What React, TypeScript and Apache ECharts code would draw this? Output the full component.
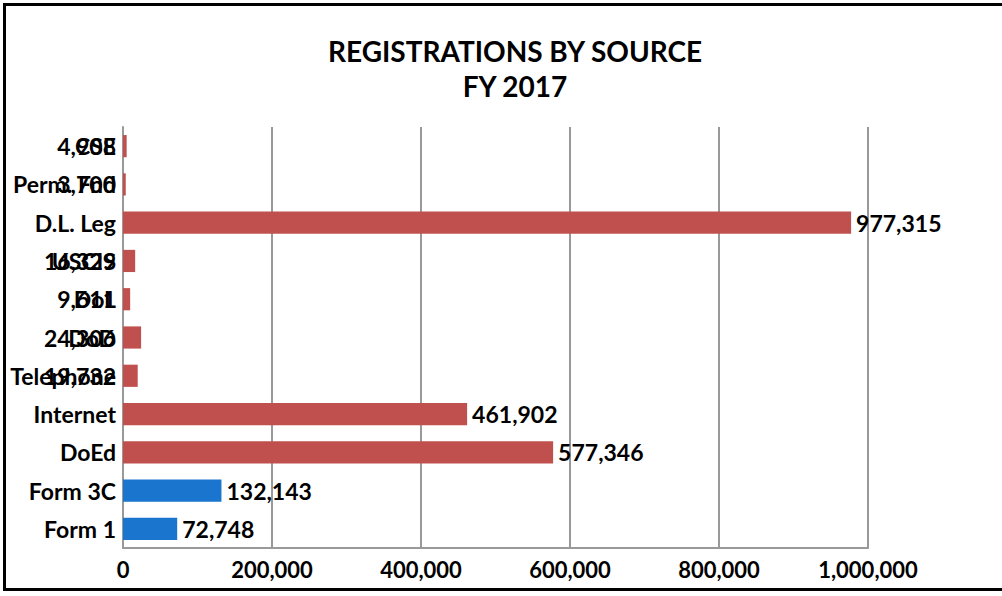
import React, { useEffect, useRef } from "react";
import * as echarts from "echarts";

const categories = ["Form 1", "Form 3C", "DoEd", "Internet", "Telephone", "DoD", "DoL", "USCIS", "D.L. Leg", "Perm. Fnd", "CSE"];
const values = [72748, 132143, 577346, 461902, 19732, 24306, 9611, 16329, 977315, 3700, 4908];
const blueCategories = ["Form 1", "Form 3C"];
const xTicks = [0, 200000, 400000, 600000, 800000, 1000000];
const titleLines = ["REGISTRATIONS BY SOURCE", "FY 2017"];

const BLUE = "#1a75cf";
const RED = "#c0504d";
const FONT = "Lato";

export default function App() {
  const ref = useRef<HTMLDivElement>(null);
  useEffect(() => {
    document.body.style.margin = "0";
    if (!ref.current) return;
    const chart = echarts.init(ref.current, null, { renderer: "svg" });
    const fmt = (v: number) => v.toLocaleString("en-US");
    chart.setOption({
      animation: false,
      backgroundColor: "#ffffff",
      title: {
        text: titleLines.join("\n"),
        left: 510,
        top: 28,
        textAlign: "center",
        textStyle: { fontFamily: FONT, fontWeight: "bold", fontSize: 28, color: "#000", lineHeight: 35 },
      },
      graphic: [
        {
          type: "rect",
          shape: { x: 4.5, y: 4.5, width: 1010, height: 585 },
          style: { fill: "none", stroke: "#000", lineWidth: 3 },
          silent: true,
        },
      ],
      grid: { left: 123, right: 134, top: 127, bottom: 48, containLabel: false },
      xAxis: {
        type: "value",
        min: xTicks[0],
        max: xTicks[xTicks.length - 1],
        interval: 200000,
        axisLine: { show: true, lineStyle: { color: "#999", width: 2 } },
        axisTick: { show: false },
        splitLine: { show: true, lineStyle: { color: "#999", width: 2 } },
        axisLabel: {
          fontFamily: FONT,
          fontWeight: "bold",
          fontSize: 22,
          color: "#000",
          margin: 10,
          formatter: (v: number) => fmt(v),
        },
      },
      yAxis: {
        type: "category",
        data: categories,
        axisLine: { show: true, lineStyle: { color: "#999", width: 2 } },
        axisTick: { show: false },
        axisLabel: { fontFamily: FONT, fontWeight: "bold", fontSize: 23, color: "#000", margin: 7 },
      },
      series: [
        {
          type: "bar",
          barCategoryGap: "42%",
          data: categories.map((c, i) => {
            const v = values[i];
            const small = v < 30000;
            return {
              value: v,
              itemStyle: { color: blueCategories.includes(c) ? BLUE : RED },
              label: {
                show: true,
                position: small ? "left" : "right",
                distance: small ? 7 : 5,
                formatter: () => fmt(v),
                fontFamily: FONT,
                fontWeight: "bold",
                fontSize: 23,
                color: "#000",
              },
            };
          }),
        },
      ],
    });
    return () => chart.dispose();
  }, []);
  return <div ref={ref} style={{ width: 1002, height: 596 }} />;
}
